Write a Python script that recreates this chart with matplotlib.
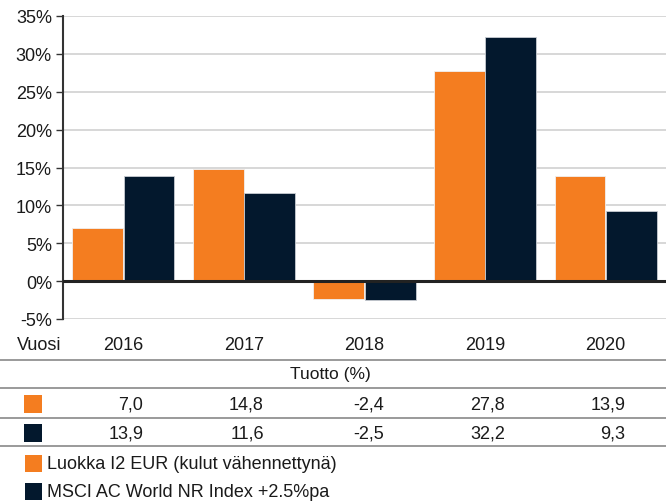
import matplotlib
matplotlib.use("Agg")
import matplotlib.pyplot as plt
from matplotlib.transforms import blended_transform_factory
from matplotlib.lines import Line2D
from matplotlib.patches import Rectangle

years = ["2016", "2017", "2018", "2019", "2020"]
fund = [7.0, 14.8, -2.4, 27.8, 13.9]
index = [13.9, 11.6, -2.5, 32.2, 9.3]
fund_labels = ["7,0", "14,8", "-2,4", "27,8", "13,9"]
index_labels = ["13,9", "11,6", "-2,5", "32,2", "9,3"]
yticks = [-5, 0, 5, 10, 15, 20, 25, 30, 35]
series_names = ["Luokka I2 EUR (kulut vähennettynä)", "MSCI AC World NR Index +2.5%pa"]

ORANGE = "#F47D20"
NAVY = "#03182D"
FONT = "Liberation Sans"
FS = 13

plt.rcParams['font.family'] = [FONT, 'DejaVu Sans']

W, H = 666, 502
fig = plt.figure(figsize=(W / 100, H / 100), dpi=100)
ax = fig.add_axes([63 / W, (H - 320) / H, (666 - 63) / W, (320 - 17) / H])

x = list(range(len(years)))
bw = 0.42
off = 0.213
ax.bar([i - off for i in x], fund, width=bw, color=ORANGE, edgecolor="#f0f0f0", linewidth=0.6, zorder=3)
ax.bar([i + off for i in x], index, width=bw, color=NAVY, edgecolor="#c8ccd2", linewidth=0.6, zorder=3)

ax.set_xlim(-0.5, 4.5)
ax.set_ylim(-5, 35)
ax.set_yticks(yticks)
ax.set_yticklabels([f"{v}%" for v in yticks], fontsize=FS, color="#1a1a1a")
ax.set_xticks([])
ax.grid(axis="y", color="#d4d4d4", linewidth=1.3, zorder=0)
ax.axhline(0, color="#222222", linewidth=2.2, zorder=4)
for s in ["top", "right", "bottom"]:
    ax.spines[s].set_visible(False)
ax.spines["left"].set_color("#333333")
ax.spines["left"].set_linewidth(1.5)
ax.tick_params(axis="y", length=5, width=1.0, color="#333333", pad=3)

tr = blended_transform_factory(ax.transData, fig.transFigure)

def fy(py):
    return (H - py) / H

# Year header
fig.text(17 / W, fy(346), "Vuosi", fontsize=FS, ha="left", va="center", color="#1a1a1a")
for i, yr in enumerate(years):
    fig.text(i, fy(346), yr, transform=tr, fontsize=FS, ha="center", va="center", color="#1a1a1a")

fig.text(330 / W, fy(375), "Tuotto (%)", fontsize=FS - 0.5, ha="center", va="center", color="#1a1a1a")

for i, lab in enumerate(fund_labels):
    fig.text(i + 0.165, fy(405), lab, transform=tr, fontsize=FS, ha="right", va="center", color="#1a1a1a")
for i, lab in enumerate(index_labels):
    fig.text(i + 0.165, fy(434), lab, transform=tr, fontsize=FS, ha="right", va="center", color="#1a1a1a")

# Row squares
for py, c in [(405, ORANGE), (434, NAVY)]:
    fig.add_artist(Rectangle((24 / W, fy(py + 9)), 18 / W, 18 / H, transform=fig.transFigure,
                             facecolor=c, edgecolor="none"))

# Horizontal rules
for py in [361, 389, 419, 447]:
    fig.add_artist(Line2D([0, 1], [fy(py), fy(py)], transform=fig.transFigure, color="#9a9a9a", linewidth=1.4))

# Legend
for py, c, name in [(465, ORANGE, series_names[0]), (493, NAVY, series_names[1])]:
    fig.add_artist(Rectangle((25 / W, fy(py + 8)), 17 / W, 17 / H, transform=fig.transFigure,
                             facecolor=c, edgecolor="none"))
    fig.text(47 / W, fy(py), name, fontsize=FS, ha="left", va="center", color="#1a1a1a")

fig.savefig("out.png", dpi=100)
